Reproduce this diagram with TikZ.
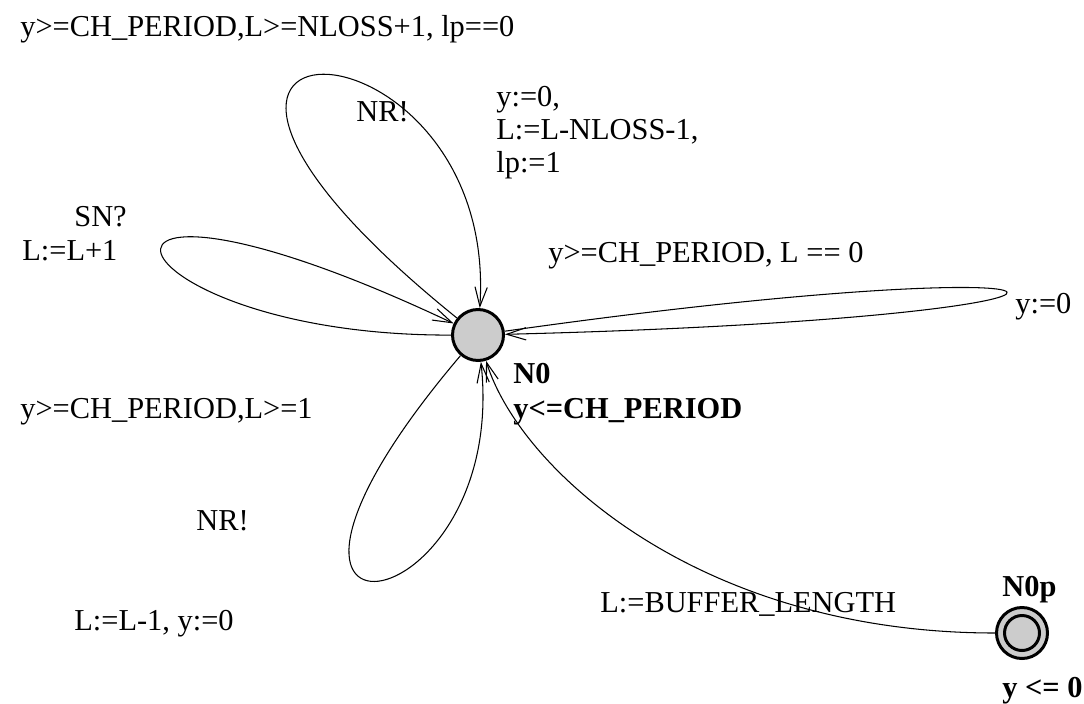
\documentclass[tikz,border=0pt]{standalone}
\usepackage{fontspec}
\setmainfont{Liberation Serif}
\usetikzlibrary{arrows.meta}

\begin{document}
\begin{tikzpicture}[x=0.02cm, y=-0.02cm,
        loc/.style={circle, draw, line width=1.7pt, fill=gray!40, minimum size=1.02cm, inner sep=0pt},
        edge/.style={line width=0.6pt, -{Straight Barb[length=11pt,width=7pt]}},
        lbl/.style={anchor=base west, inner sep=0pt, font=\fontsize{17.3}{20}\selectfont},
        inv/.style={lbl, font=\fontsize{17.3}{20}\selectfont\bfseries}]
    \useasboundingbox (0,0) rectangle (1084,703);
    % locations
    \node[loc] (N0) at (478,335) {};
    \node[loc] (N0p) at (1022,633) {};
    \draw[line width=1.7pt] (N0p.center) circle[radius=0.35cm];
    \node[inv] (n0name) at (513,383) {N0};
    \node[inv] (n0inv) at (513,418) {y<=CH\_PERIOD};
    \node[inv] (n0pname) at (1002,596) {N0p};
    \node[inv] (n0pinv) at (1002,697) {y <= 0};
    % self loops on N0
    \draw[edge] (N0) .. controls (50,-10) and (500,0) .. (N0);
    \draw[edge] (N0) .. controls (102,336) and (27,122) .. (N0);
    \draw[edge] (N0) .. controls (1148,240) and (1200,317) .. (N0);
    \draw[edge] (N0) .. controls (185,680) and (510,630) .. (N0);
    \draw[edge] (N0p) .. controls (700,633) and (520,470) .. (N0);
    % guards, syncs, updates
    \node[lbl] (g1) at (20,36) {y>=CH\_PERIOD,L>=NLOSS+1, lp==0};
    \node[lbl] (s1) at (356,121) {NR!};
    \node[lbl] (u1a) at (496,106) {y:=0,};
    \node[lbl] (u1b) at (496,139) {L:=L-NLOSS-1,};
    \node[lbl] (u1c) at (496,172) {lp:=1};
    \node[lbl] (s2) at (74,226) {SN?};
    \node[lbl] (u2) at (22,260) {L:=L+1};
    \node[lbl] (g3) at (548,262) {y>=CH\_PERIOD, L == 0};
    \node[lbl] (u3) at (1015,313) {y:=0};
    \node[lbl] (g4) at (20,418) {y>=CH\_PERIOD,L>=1};
    \node[lbl] (s4) at (196,530) {NR!};
    \node[lbl] (u4) at (74,630) {L:=L-1, y:=0};
    \node[lbl] (u5) at (600,612) {L:=BUFFER\_LENGTH};
\end{tikzpicture}
\end{document}
